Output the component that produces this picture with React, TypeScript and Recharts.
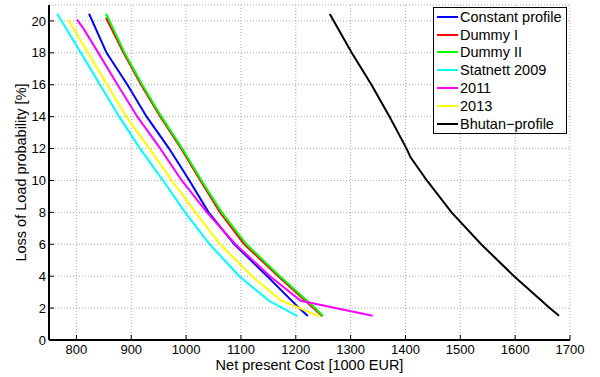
import React from 'react';
import { LineChart, Line, XAxis, YAxis, CartesianGrid, Legend, Label } from 'recharts';

// ---- data (x = Net present Cost [1000 EUR], y = LOLP [%]) ----
const constantX = [823, 855, 893, 928, 969, 1006, 1041, 1088, 1148, 1206, 1222];
const constantY = [20.45, 18, 16, 14, 12, 10, 8, 6, 4, 2, 1.5];

const dummy1X = [854, 886, 918, 953, 991, 1026, 1062, 1106, 1168, 1232, 1248];
const dummy1Y = [20.2, 18, 16, 14, 12, 10, 8, 6, 4, 2, 1.5];

const dummy2X = [854, 888, 920, 955, 993, 1028, 1065, 1110, 1171, 1235, 1250];
const dummy2Y = [20.45, 18, 16, 14, 12, 10, 8, 6, 4, 2, 1.5];

const statnettX = [765, 808, 843, 878, 916, 958, 998, 1043, 1097, 1151, 1203];
const statnettY = [20.45, 18, 16, 14, 12, 10, 8, 6, 4, 2.46, 1.5];

const y2011X = [801, 813, 840, 875, 911, 953, 992, 1038, 1090, 1153, 1209, 1340];
const y2011Y = [20.08, 19.52, 18, 16, 14, 12, 10, 8, 6, 4, 2.46, 1.52];

const y2013X = [785, 821, 856, 891, 933, 974, 1017, 1062, 1120, 1172, 1242];
const y2013Y = [20.08, 18, 16, 14, 12, 10, 8, 6, 4, 2.5, 1.5];

const bhutanX = [1262, 1302, 1338, 1371, 1402, 1409, 1439, 1484, 1538, 1598, 1663, 1680];
const bhutanY = [20.44, 18, 16, 14, 12, 11.47, 10, 8, 6, 4, 2, 1.52];

const xTicks = [800, 900, 1000, 1100, 1200, 1300, 1400, 1500, 1600, 1700];
const yTicks = [0, 2, 4, 6, 8, 10, 12, 14, 16, 18, 20];

const toPoints = (xs: number[], ys: number[]) => xs.map((x, i) => ({ x, y: ys[i] }));

const series = [
  { name: 'Constant profile', color: '#0000ff', data: toPoints(constantX, constantY) },
  { name: 'Dummy I', color: '#ff0000', data: toPoints(dummy1X, dummy1Y) },
  { name: 'Dummy II', color: '#00ff00', data: toPoints(dummy2X, dummy2Y) },
  { name: 'Statnett 2009', color: '#00ffff', data: toPoints(statnettX, statnettY) },
  { name: '2011', color: '#ff00ff', data: toPoints(y2011X, y2011Y) },
  { name: '2013', color: '#ffff00', data: toPoints(y2013X, y2013Y) },
  { name: 'Bhutan\u2212profile', color: '#000000', data: toPoints(bhutanX, bhutanY) },
];

const FONT = '"Liberation Sans", Arial, Helvetica, sans-serif';

const LegendBox = () => (
  <div
    style={{
      border: '1px solid #000',
      background: '#fff',
      padding: '0 4px 0 3px',
      fontFamily: FONT,
      fontSize: 14.5,
      color: '#000',
      boxSizing: 'border-box',
      width: 134,
    }}
  >
    {series.map((s) => (
      <div key={s.name} style={{ display: 'flex', alignItems: 'center', height: 17.8, whiteSpace: 'nowrap' }}>
        <span style={{ display: 'inline-block', width: 21, height: 2, background: s.color, marginRight: 2 }} />
        <span>{s.name}</span>
      </div>
    ))}
  </div>
);

const XTitle = (props: any) => {
  const { viewBox } = props;
  return (
    <text x={viewBox.x + viewBox.width / 2} y={viewBox.y + 30} textAnchor="middle" fontSize={14.5} fill="#000" fontFamily={FONT}>
      Net present Cost [1000 EUR]
    </text>
  );
};

const YTitle = (props: any) => {
  const { viewBox } = props;
  const cx = 25.5;
  const cy = viewBox.y + viewBox.height / 2;
  return (
    <text x={cx} y={cy} transform={`rotate(-90, ${cx}, ${cy})`} textAnchor="middle" fontSize={14.5} fill="#000" fontFamily={FONT}>
      Loss of Load probability [%]
    </text>
  );
};

export default function App() {
  return (
    <div style={{ position: 'absolute', left: 0, top: 0, width: 600, height: 377, background: '#fff', fontFamily: FONT }}>
      <LineChart width={600} height={377} margin={{ top: 5, right: 30, bottom: 0, left: 0 }} style={{ fontFamily: FONT }}>
        <CartesianGrid stroke="#a8a8a8" strokeDasharray="1 2" />
        <XAxis
          dataKey="x"
          type="number"
          domain={[750, 1700]}
          ticks={xTicks}
          height={37}
          tickSize={-5}
          tickMargin={10}
          tick={{ fill: '#000', fontSize: 13 }}
          axisLine={{ stroke: '#000', strokeWidth: 2 }}
          tickLine={{ stroke: '#000' }}
          allowDataOverflow
        >
          <Label content={XTitle} />
        </XAxis>
        <XAxis
          xAxisId="top"
          orientation="top"
          type="number"
          domain={[750, 1700]}
          ticks={xTicks}
          height={0}
          tick={false}
          tickSize={-5}
          axisLine={{ stroke: '#000', strokeWidth: 2 }}
          tickLine={{ stroke: '#000' }}
        />
        <YAxis
          type="number"
          domain={[0, 21]}
          ticks={yTicks}
          width={49}
          tickSize={-5}
          tickMargin={8}
          tick={{ fill: '#000', fontSize: 13 }}
          axisLine={{ stroke: '#000', strokeWidth: 2 }}
          tickLine={{ stroke: '#000' }}
          allowDataOverflow
        >
          <Label content={YTitle} />
        </YAxis>
        <YAxis
          yAxisId="right"
          orientation="right"
          type="number"
          domain={[0, 21]}
          ticks={yTicks}
          width={0}
          tick={false}
          tickSize={-5}
          axisLine={{ stroke: '#000', strokeWidth: 2 }}
          tickLine={{ stroke: '#000' }}
        />
        {series.map((s) => (
          <Line
            key={s.name}
            data={s.data}
            dataKey="y"
            name={s.name}
            type="linear"
            stroke={s.color}
            strokeWidth={2}
            dot={false}
            activeDot={false}
            isAnimationActive={false}
          />
        ))}
        <Legend
          layout="vertical"
          align="center"
          verticalAlign="middle"
          content={LegendBox}
          wrapperStyle={{ left: 433, top: 7, width: 134, height: 128 }}
        />
      </LineChart>
    </div>
  );
}
